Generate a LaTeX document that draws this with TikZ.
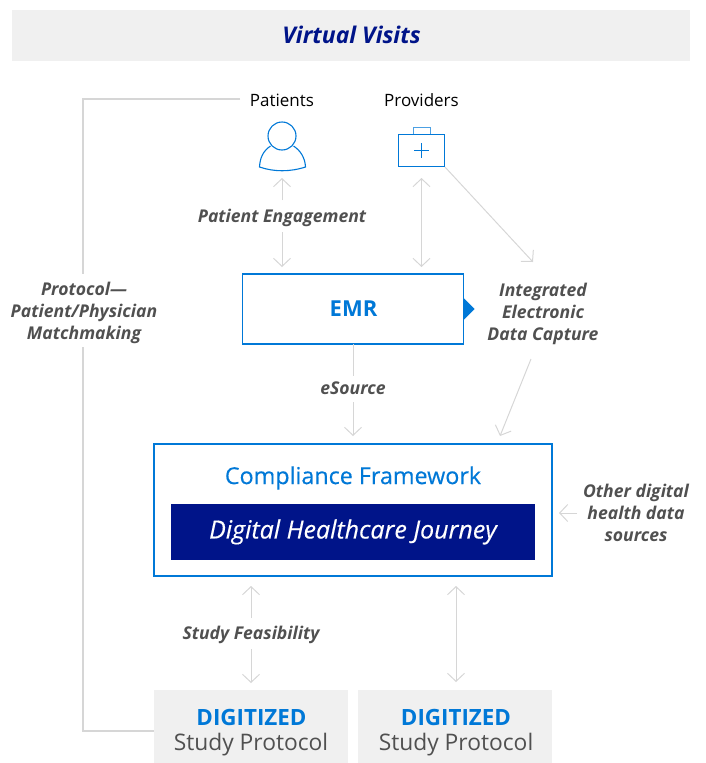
\documentclass[tikz,border=0pt]{standalone}
\usepackage{fontspec}
\setmainfont{Open Sans}
\newfontfamily\semilight[FakeBold=0.35]{Open Sans}
\usetikzlibrary{arrows.meta}
\definecolor{blu}{HTML}{0078D7}
\definecolor{navy}{HTML}{001489}
\definecolor{pan}{HTML}{F0F0F0}
\definecolor{lin}{HTML}{D6D6D6}
\definecolor{txt}{HTML}{505050}
\tikzset{
 x=1pt,y=-1pt,
 conn/.style={draw=lin,line width=1pt},
 arr/.style={conn,-{Straight Barb[length=8pt,width=17pt,line width=1pt]}},
 dbl/.style={conn,{Straight Barb[length=8pt,width=17pt,line width=1pt]}-{Straight Barb[length=8pt,width=17pt,line width=1pt]}},
 lab/.style={text=txt,font=\fontsize{17.6}{22}\selectfont\bfseries\itshape,align=center,inner sep=0pt},
 plain/.style={text=black,font=\fontsize{17}{20}\selectfont,inner sep=0pt},
 bluebox/.style={draw=blu,line width=1.15pt,fill=white,inner sep=0pt},
 panel/.style={fill=pan,inner sep=0pt,minimum width=194pt,minimum height=73pt},
 dtop/.style={text=blu,font=\fontsize{22.4}{24}\selectfont\bfseries,inner sep=0pt},
 dbot/.style={text=txt,font=\fontsize{22.8}{24}\selectfont,inner sep=0pt},
 icon/.style={draw=blu,line width=1.1pt},
}
\begin{document}
\begin{tikzpicture}
\useasboundingbox (0,0) rectangle (706,763);
\node[fill=pan,minimum width=678pt,minimum height=51pt,inner sep=0pt] (title) at (351,35.5) {};
\node[text=navy,font=\fontsize{23}{26}\selectfont\bfseries\itshape,inner sep=0pt] (titletext) at (351.5,35) {Virtual Visits};
\node[plain] (pat) at (282,100) {Patients};
\node[plain] (prov) at (421.5,100) {Providers};
% person icon
\draw[icon] (282,136) circle (14);
\draw[icon] (270.5,146) .. controls (263,151) and (260,158) .. (259.5,167) .. controls (274,172) and (290,172) .. (305.5,167) .. controls (305,158) and (301,151) .. (293.5,146);
\coordinate (patb) at (282,178);
% case icon
\node[draw=blu,line width=1.1pt,minimum width=46pt,minimum height=32pt,inner sep=0pt] (case) at (421.5,150.5) {};
\draw[draw=blu!70,line width=1pt] (413,133.5) -- (413,127.5) -- (430.5,127.5) -- (430.5,133.5);
\draw[blu,line width=.8pt] (421.5,143) -- (421.5,158) (414,150.5) -- (429,150.5);
\coordinate (caseb) at (421.5,178);
% EMR
\node[bluebox,minimum width=221pt,minimum height=70pt] (emr) at (353,309) {};
\node[text=blu,font=\fontsize{22}{24}\selectfont\bfseries,inner sep=0pt] (emrtext) at (353.5,309) {EMR};
\fill[blu] (463.5,298) -- (474.5,309) -- (463.5,320) -- cycle;
% labels
\node[lab] (pe) at (282,217.5) {Patient Engagement};
\node[lab] (iedc) at (543,313.5) {Integrated\\Electronic\\Data Capture};
\node[lab] (es) at (353,388.5) {eSource};
\node[lab] (proto) at (84,312.5) {Protocol—\\Patient/Physician\\Matchmaking};
\node[lab] (other) at (636,512.5) {Other digital\\health data\\sources};
\node[lab] (sf) at (251,634.5) {Study Feasibility};
% compliance
\node[bluebox,minimum width=398pt,minimum height=132pt] (cf) at (353,510) {};
\node[text=blu,font=\fontsize{23.3}{26}\semilight,inner sep=0pt] (cft) at (353,478) {Compliance Framework};
\node[fill=navy,minimum width=364pt,minimum height=56pt,text=white,inner sep=0pt,font=\fontsize{25}{28}\semilight\itshape] (dhj) at (353,532) {Digital Healthcare Journey};
% panels
\node[panel] (d1) at (251,726.5) {};
\node[panel] (d2) at (455,726.5) {};
\node[dtop] (d1a) at (251.5,717) {DIGITIZED};
\node[dbot] (d1b) at (251,745) {Study Protocol};
\node[dtop] (d2a) at (456,717) {DIGITIZED};
\node[dbot] (d2b) at (456,745) {Study Protocol};
% connectors
\coordinate (a1) at (282,200); \coordinate (a2) at (282,232); \coordinate (a3) at (282,267);
\draw[arr] (a1) -- (patb);
\draw[arr] (a2) -- (a3);
\coordinate (b2) at (421.5,267);
\draw[dbl] (caseb) -- (b2);
\coordinate (c1) at (445,167); \coordinate (c2) at (533,262);
\draw[arr] (c1) -- (c2);
\coordinate (i1) at (531,359); \coordinate (i2) at (500,436);
\draw[arr] (i1) -- (i2);
\coordinate (e1) at (353,344); \coordinate (e2) at (353,376); \coordinate (e3) at (353,402); \coordinate (e4) at (353,436);
\draw[conn] (e1) -- (e2);
\draw[arr] (e3) -- (e4);
\coordinate (o1) at (577,513); \coordinate (o2) at (559,513);
\draw[arr] (o1) -- (o2);
\coordinate (f1) at (251,586); \coordinate (f2) at (251,618); \coordinate (f3) at (251,649); \coordinate (f4) at (251,683);
\draw[arr] (f2) -- (f1);
\draw[arr] (f3) -- (f4);
\coordinate (g1) at (456,586); \coordinate (g2) at (456,682);
\draw[dbl] (g1) -- (g2);
\coordinate (h0) at (240,99); \coordinate (h1) at (83,99); \coordinate (h2) at (83,274); \coordinate (h3) at (83,347); \coordinate (h4) at (83,731);
\draw[conn,line width=1.2pt] (h0) -- (h1) -- (h2);
\draw[conn,line width=1.2pt] (h3) -- (h4) -- (d1.west |- h4);
\end{tikzpicture}
\end{document}
